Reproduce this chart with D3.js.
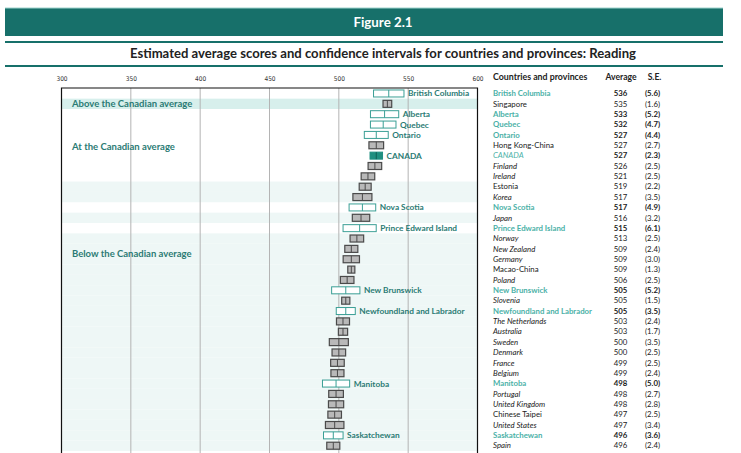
<!DOCTYPE html>
<html>
<head>
<meta charset="utf-8">
<script src="https://cdn.jsdelivr.net/npm/d3@7"></script>
<style>
  body { margin: 0; background: #fff; }
  svg { display: block; font-family: Lato, "Open Sans", sans-serif; }
</style>
</head>
<body>
<div id="chart"></div>
<script>
// rows, top to bottom, as printed in the figure
const names = ["British Columbia", "Singapore", "Alberta", "Quebec", "Ontario", "Hong Kong-China", "CANADA",
  "Finland", "Ireland", "Estonia", "Korea", "Nova Scotia", "Japan", "Prince Edward Island", "Norway",
  "New Zealand", "Germany", "Macao-China", "Poland", "New Brunswick", "Slovenia", "Newfoundland and Labrador",
  "The Netherlands", "Australia", "Sweden", "Denmark", "France", "Belgium", "Manitoba", "Portugal",
  "United Kingdom", "Chinese Taipei", "United States", "Saskatchewan", "Spain"];
const averages = [536, 535, 533, 532, 527, 527, 527, 526, 521, 519, 517, 517, 516, 515, 513, 509, 509, 509,
  506, 505, 505, 505, 503, 503, 500, 500, 499, 499, 498, 498, 498, 497, 497, 496, 496];
const stdErrors = [5.6, 1.6, 5.2, 4.7, 4.4, 2.7, 2.3, 2.5, 2.5, 2.2, 3.5, 4.9, 3.2, 6.1, 2.5, 2.4, 3.0, 1.3,
  2.5, 5.2, 1.5, 3.5, 2.4, 1.7, 3.5, 2.5, 2.5, 2.4, 5.0, 2.7, 2.8, 2.5, 3.4, 3.6, 2.4];
// p = province, c = country, ca = Canada
const kinds = ["p", "c", "p", "p", "p", "c", "ca", "c", "c", "c", "c", "p", "c", "p", "c", "c", "c", "c",
  "c", "p", "c", "p", "c", "c", "c", "c", "c", "c", "p", "c", "c", "c", "c", "p", "c"];
const italicNames = ["CANADA", "Finland", "Ireland", "Korea", "Japan", "Norway", "New Zealand", "Germany",
  "Poland", "Slovenia", "The Netherlands", "Australia", "Sweden", "Denmark", "France", "Belgium",
  "Portugal", "United Kingdom", "United States", "Spain"];
// compared with Canada: a = above, s = same, b = below
const status = ["s", "a", "s", "s", "s", "s", "s", "s", "s", "b", "b", "s", "b", "s", "b", "b", "b", "b",
  "b", "b", "b", "b", "b", "b", "b", "b", "b", "b", "b", "b", "b", "b", "b", "b", "b"];
const xTicks = [300, 350, 400, 450, 500, 550, 600];
const groupLabels = [
  {text: "Above the Canadian average", row: "Singapore", dy: 0},
  {text: "At the Canadian average", row: "Hong Kong-China", dy: 2},
  {text: "Below the Canadian average", row: "Germany", dy: -5}
];

const width = 741, height = 453;
const teal = "#17706a", labelTeal = "#2b7b74", tableTeal = "#4bb1a7";

const rows = names.map((n, i) => ({
  name: n, avg: averages[i], se: stdErrors[i], kind: kinds[i], status: status[i],
  italic: italicNames.includes(n)
}));

const svg = d3.select("#chart").append("svg")
  .attr("width", width).attr("height", height);

// ---- header ----
svg.append("rect").attr("x", 5).attr("y", 8).attr("width", 718).attr("height", 28).attr("fill", teal);
svg.append("rect").attr("x", 5).attr("y", 7.5).attr("width", 718).attr("height", 1).attr("fill", "#9fd3cd");
svg.append("text").attr("x", 383).attr("y", 26.5).attr("text-anchor", "middle")
  .attr("fill", "#fff").attr("font-weight", "bold").attr("font-size", 13.3).text("Figure 2.1");
svg.append("rect").attr("x", 5).attr("y", 41).attr("width", 718).attr("height", 2).attr("fill", teal);
svg.append("text").attr("x", 383).attr("y", 57.5).attr("text-anchor", "middle")
  .attr("fill", "#222").attr("font-weight", "bold").attr("font-size", 13.1)
  .text("Estimated average scores and confidence intervals for countries and provinces: Reading");
svg.append("rect").attr("x", 5).attr("y", 65).attr("width", 718).attr("height", 2).attr("fill", teal);

// ---- scales ----
const x = d3.scaleLinear().domain([300, 600]).range([61.5, 477.5]);
const y = d3.scaleBand().domain(names).range([88.3, 88.3 + names.length * 10.36]);
const boxH = 7;

const plot = svg.append("g");

// row shading
plot.selectAll(".shade").data(rows.filter(d => d.status !== "s")).join("rect")
  .attr("class", "shade")
  .attr("x", x(300)).attr("width", x(600) - x(300))
  .attr("y", d => y(d.name)).attr("height", y.bandwidth())
  .attr("fill", d => d.status === "a" ? "#d7efec" : "#eef7f6");

// gridlines
plot.selectAll(".grid").data(xTicks.slice(1, -1)).join("line")
  .attr("class", "grid")
  .attr("x1", d => x(d)).attr("x2", d => x(d))
  .attr("y1", 88).attr("y2", height)
  .attr("stroke", "#b4b4b4").attr("stroke-width", 1);

// frame
plot.append("path")
  .attr("d", `M${x(300)},${height}V88H${x(600)}V${height}`)
  .attr("fill", "none").attr("stroke", "#111").attr("stroke-width", 1.2);

// top axis
const xAxis = d3.axisTop(x).tickValues(xTicks).tickSize(0).tickPadding(0);
svg.append("g").attr("transform", "translate(0,81)").call(xAxis)
  .call(g => g.select(".domain").remove())
  .call(g => g.selectAll("text")
    .attr("font-family", "'Liberation Sans Narrow', 'DejaVu Sans Condensed', sans-serif")
    .attr("font-size", 6.5).attr("fill", "#333"));

// group labels
svg.selectAll(".group").data(groupLabels).join("text")
  .attr("class", "group")
  .attr("x", 72).attr("y", d => y(d.row) + y.bandwidth() / 2 + 3.2 + d.dy)
  .attr("font-size", 9.5).attr("font-weight", "bold").attr("fill", labelTeal)
  .text(d => d.text);

// confidence interval boxes
const lo = d => x(d.avg - 1.96 * d.se), hi = d => x(d.avg + 1.96 * d.se);
const fillOf = d => d.kind === "p" ? "#fff" : d.kind === "ca" ? "#1f8f80" : "#b9b9b9";
const strokeOf = d => d.kind === "p" ? "#3a9f95" : d.kind === "ca" ? "#1f8f80" : "#4a4a4a";

const box = plot.selectAll(".ci").data(rows).join("g").attr("class", "ci")
  .attr("transform", d => `translate(0,${y(d.name) + y.bandwidth() / 2})`);
box.append("rect")
  .attr("x", lo).attr("width", d => hi(d) - lo(d))
  .attr("y", -boxH / 2).attr("height", boxH)
  .attr("fill", fillOf).attr("stroke", strokeOf).attr("stroke-width", d => d.kind === "c" ? 1.2 : 1);
box.append("line")
  .attr("x1", d => x(d.avg)).attr("x2", d => x(d.avg))
  .attr("y1", -boxH / 2).attr("y2", boxH / 2)
  .attr("stroke", d => d.kind === "ca" ? "#0d5f55" : strokeOf(d)).attr("stroke-width", 1);
box.filter(d => d.kind !== "c").append("text")
  .attr("x", d => hi(d) + 4).attr("y", 3)
  .attr("font-size", 8.3).attr("font-weight", "bold").attr("fill", labelTeal)
  .text(d => d.name);

// ---- table ----
const table = svg.append("g");
table.append("text").attr("x", 493).attr("y", 80).attr("font-size", 8.8).attr("font-weight", "bold")
  .attr("fill", "#222").text("Countries and provinces");
table.append("text").attr("x", 621).attr("y", 80).attr("text-anchor", "middle").attr("font-size", 8.6)
  .attr("font-weight", "bold").attr("fill", "#222").text("Average");
table.append("text").attr("x", 654.5).attr("y", 80).attr("text-anchor", "middle").attr("font-size", 8.6)
  .attr("font-weight", "bold").attr("fill", "#222").text("S.E.");

const tr = table.selectAll(".row").data(rows).join("g").attr("class", "row")
  .attr("transform", d => `translate(0,${y(d.name) + y.bandwidth() / 2 + 2.7})`)
  .attr("font-size", 7.8);
tr.append("text").attr("x", 493)
  .attr("fill", d => d.kind === "c" ? "#222" : tableTeal)
  .attr("font-weight", d => d.kind === "p" ? "bold" : null)
  .attr("font-style", d => d.italic ? "italic" : null)
  .text(d => d.name);
tr.append("text").attr("x", 620.5).attr("text-anchor", "middle")
  .attr("fill", "#222").attr("font-weight", d => d.kind === "c" ? null : "bold")
  .text(d => d.avg);
tr.append("text").attr("x", 652.5).attr("text-anchor", "middle")
  .attr("fill", "#222").attr("font-weight", d => d.kind === "c" ? null : "bold")
  .text(d => `(${d.se.toFixed(1)})`);
</script>
</body>
</html>
